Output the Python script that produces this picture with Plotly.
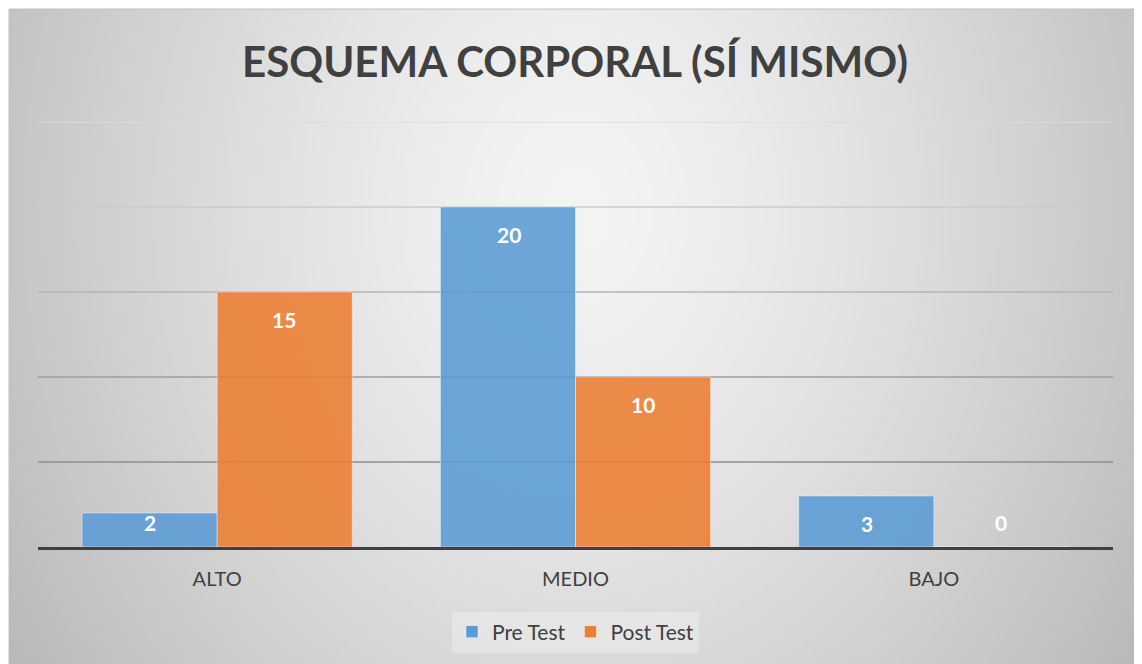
import base64
import struct
import zlib

import numpy as np
import plotly.graph_objects as go

# data
categories = ["ALTO", "MEDIO", "BAJO"]
pre_test = [2, 20, 3]
post_test = [15, 10, 0]
tick_vals = [5, 10, 15, 20, 25]
grid_colors = ["#8e8e8e", "#9e9e9e", "#b4b4b4", "#cbcbcb", "#dcdcdc"]

FONT = "Lato"
TXT = "#404040"


def gradient_png(w, h):
    # soft radial grey gradient like the office chart style, encoded as a grayscale PNG
    xs = np.linspace(-1, 1, w)
    ys = np.linspace(0, 1, h)
    X, Y = np.meshgrid(xs, ys)
    d = np.sqrt(X ** 2 + ((Y - 0.3) / 1.05) ** 2)
    v = 244 - 46 * np.clip(d, 0, 1.2) ** 1.4
    img = np.clip(v, 0, 255).astype(np.uint8)
    raw = b"".join(b"\x00" + img[r].tobytes() for r in range(h))

    def chunk(tag, data):
        c = struct.pack(">I", len(data)) + tag + data
        return c + struct.pack(">I", zlib.crc32(tag + data) & 0xffffffff)

    png = b"\x89PNG\r\n\x1a\n"
    png += chunk(b"IHDR", struct.pack(">IIBBBBB", w, h, 8, 0, 0, 0, 0))
    png += chunk(b"IDAT", zlib.compress(raw, 9))
    png += chunk(b"IEND", b"")
    return "data:image/png;base64," + base64.b64encode(png).decode()


# page body has an 8px margin, so the figure sits at (8, 8) on screen
OFF = 8
W, H = 1142 - OFF, 664 - OFF
L, T = 38 - OFF, 122 - OFF
R = W - (1113 - OFF)
B = H - (547 - OFF)
pw, ph = W - L - R, H - T - B


def px_x(x):
    # screen x -> paper
    return (x - OFF - L) / pw


def px_y(y):
    # screen y -> paper
    return (H - B - (y - OFF)) / ph


fig = go.Figure()
fig.add_trace(go.Bar(
    name="Pre Test", x=categories, y=pre_test,
    marker=dict(color="#5b9bd5", opacity=0.88, line=dict(color="rgba(255,255,255,0.45)", width=1))))
fig.add_trace(go.Bar(
    name="Post Test", x=categories, y=post_test,
    marker=dict(color="#ed7d31", opacity=0.88, line=dict(color="rgba(255,255,255,0.45)", width=1))))

# value labels inside the top of each bar
for vals, shift in ((pre_test, -67), (post_test, 67)):
    for c, v in zip(categories, vals):
        if v >= 3:
            y, ys = v, -27
        else:
            y, ys = 0, 25
        fig.add_annotation(x=c, y=y, yshift=ys, xshift=shift, text=str(v), showarrow=False,
                           font=dict(family=FONT, size=21, color="white", weight="bold"))

# gridlines
for tv, gc in zip(tick_vals, grid_colors):
    fig.add_shape(type="line", xref="paper", yref="y", x0=0, x1=1, y0=tv, y1=tv,
                  line=dict(color=gc, width=1.3), layer="below")

# chart border
fig.add_shape(type="rect", xref="paper", yref="paper",
              x0=px_x(9), x1=px_x(1143), y0=px_y(670), y1=px_y(9),
              line=dict(color="#c0c0c0", width=1), layer="below")

fig.add_layout_image(dict(
    source=gradient_png(284, 164), xref="paper", yref="paper",
    x=px_x(9), y=px_y(9), sizex=px_x(1143) - px_x(9), sizey=px_y(9) - px_y(670),
    xanchor="left", yanchor="top", sizing="stretch", layer="below"))

fig.update_layout(
    width=W, height=H,
    margin=dict(l=L, r=R, t=T, b=B),
    paper_bgcolor="white",
    plot_bgcolor="rgba(0,0,0,0)",
    barmode="group",
    bargap=0.246,
    bargroupgap=0,
    title=dict(text="ESQUEMA CORPORAL (SÍ MISMO)", x=0.5, xanchor="center",
               y=1 - (62 - OFF) / H, yanchor="middle",
               font=dict(family=FONT, size=42, color=TXT, weight="bold")),
    legend=dict(orientation="h", x=0.5, xanchor="center", y=px_y(632), yanchor="middle",
                bgcolor="rgba(255,255,255,0.28)", font=dict(family=FONT, size=21, color=TXT),
                itemwidth=30, traceorder="normal"),
    xaxis=dict(showline=True, linecolor="#404040", linewidth=3, ticks="",
               ticklabelstandoff=12,
               tickfont=dict(family=FONT, size=20, color=TXT), showgrid=False),
    yaxis=dict(range=[0, 25], tickvals=tick_vals, showticklabels=False, showgrid=False,
               zeroline=False),
    font=dict(family=FONT, color=TXT),
)

fig.write_html("out.html")
